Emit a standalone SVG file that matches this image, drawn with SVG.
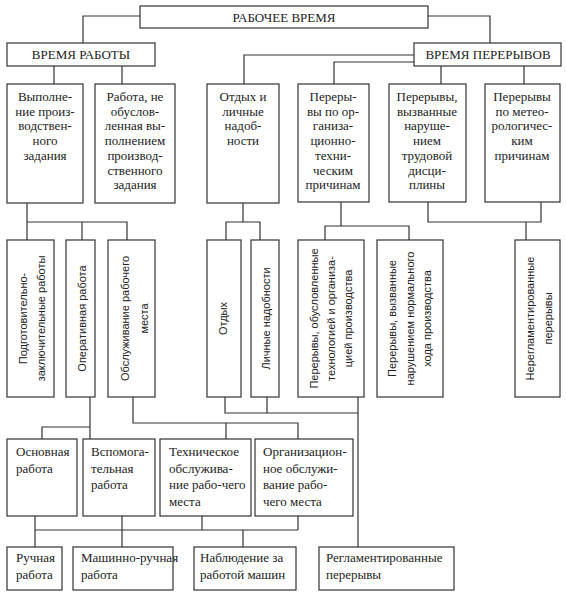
<svg xmlns="http://www.w3.org/2000/svg" width="566" height="595" viewBox="0 0 566 595">
<style>
.b{fill:#fff;stroke:#333;stroke-width:1.2}
.c{fill:none;stroke:#333;stroke-width:1.2}
.t{font-family:"Liberation Serif",serif;font-size:13px;fill:#222}
.m{text-anchor:middle}
.r{font-family:"Liberation Sans",Arial,sans-serif;font-size:11px;fill:#222;text-anchor:middle}
</style>
<rect width="566" height="595" fill="#fff"/>
<g id="connectors" class="c">
<path d="M140,16H83V43M428,16H490V43"/>
<path d="M54,66V84M122,66V84"/>
<path d="M414,55H244V84M414,62H334V84M441,66V84M524,66V84"/>
<path d="M27,203V240M27,222H127V240M82,222V240"/>
<path d="M243,203V222M226,240V222H260V240"/>
<path d="M341,202V226M325,240V226H409V240"/>
<path d="M428,202V222H541V202M526,222V240"/>
<path d="M90,397V439M90,427H42V439"/>
<path d="M133,397V423H298V439M226,423V439"/>
<path d="M225,397V413H358M267,397V413M358,397V547"/>
<path d="M35,516V547M122,516V547M202,516V530M298,516V530M35,530H298M243,530V547"/>
</g>
<g id="n-rabochee"><rect class="b" x="140" y="6" width="288" height="22"/><text class="t m" x="284" y="21.5">РАБОЧЕЕ ВРЕМЯ</text></g>
<g id="n-vremya-raboty"><rect class="b" x="7" y="43" width="148" height="23"/><text class="t m" x="81" y="59">ВРЕМЯ РАБОТЫ</text></g>
<g id="n-vremya-pereryvov"><rect class="b" x="414" y="43" width="147" height="23"/><text class="t m" x="488" y="59">ВРЕМЯ ПЕРЕРЫВОВ</text></g>

<g id="n-vypolnenie"><rect class="b" x="7" y="84" width="76" height="119"/><text class="t m" x="45" y="101"><tspan x="45">Выполне-</tspan><tspan x="45" dy="14.7">ние произ-</tspan><tspan x="45" dy="14.7">водствен-</tspan><tspan x="45" dy="14.7">ного</tspan><tspan x="45" dy="14.7">задания</tspan></text></g>
<g id="n-rabota-ne"><rect class="b" x="95" y="84" width="80" height="119"/><text class="t m" x="135" y="101"><tspan x="135">Работа, не</tspan><tspan x="135" dy="14.7">обуслов-</tspan><tspan x="135" dy="14.7">ленная вы-</tspan><tspan x="135" dy="14.7">полнением</tspan><tspan x="135" dy="14.7">производ-</tspan><tspan x="135" dy="14.7">ственного</tspan><tspan x="135" dy="14.7">задания</tspan></text></g>
<g id="n-otdyh-lichnye"><rect class="b" x="207" y="84" width="72" height="119"/><text class="t m" x="243" y="101"><tspan x="243">Отдых и</tspan><tspan x="243" dy="14.7">личные</tspan><tspan x="243" dy="14.7">надоб-</tspan><tspan x="243" dy="14.7">ности</tspan></text></g>
<g id="n-org-teh"><rect class="b" x="298" y="84" width="71" height="118"/><text class="t m" x="333" y="101"><tspan x="333">Переры-</tspan><tspan x="333" dy="14.7">вы по ор-</tspan><tspan x="333" dy="14.7">ганиза-</tspan><tspan x="333" dy="14.7">ционно-</tspan><tspan x="333" dy="14.7">техни-</tspan><tspan x="333" dy="14.7">ческим</tspan><tspan x="333" dy="14.7">причинам</tspan></text></g>
<g id="n-disciplina"><rect class="b" x="389" y="84" width="77" height="118"/><text class="t m" x="427" y="101"><tspan x="427">Перерывы,</tspan><tspan x="427" dy="14.7">вызванные</tspan><tspan x="427" dy="14.7">наруше-</tspan><tspan x="427" dy="14.7">нием</tspan><tspan x="427" dy="14.7">трудовой</tspan><tspan x="427" dy="14.7">дисци-</tspan><tspan x="427" dy="14.7">плины</tspan></text></g>
<g id="n-meteo"><rect class="b" x="485" y="84" width="75" height="118"/><text class="t m" x="522" y="101"><tspan x="522">Перерывы</tspan><tspan x="522" dy="14.7">по метео-</tspan><tspan x="522" dy="14.7">рологичес-</tspan><tspan x="522" dy="14.7">ким</tspan><tspan x="522" dy="14.7">причинам</tspan></text></g>

<g id="n-podgot"><rect class="b" x="7" y="240" width="47" height="157"/><text class="r" transform="translate(27,318.5) rotate(-90)">Подготовительно-</text><text class="r" transform="translate(45,318.5) rotate(-90)">заключительные работы</text></g>
<g id="n-operativ"><rect class="b" x="66" y="240" width="29" height="157"/><text class="r" transform="translate(86,318.5) rotate(-90)">Оперативная работа</text></g>
<g id="n-obsluzh"><rect class="b" x="108" y="240" width="47" height="157"/><text class="r" transform="translate(129,318.5) rotate(-90)">Обслуживание рабочего</text><text class="r" transform="translate(148,318.5) rotate(-90)">места</text></g>
<g id="n-otdyh"><rect class="b" x="207" y="240" width="34" height="157"/><text class="r" transform="translate(227,318.5) rotate(-90)">Отдых</text></g>
<g id="n-lichnye"><rect class="b" x="251" y="240" width="28" height="157"/><text class="r" transform="translate(270,318.5) rotate(-90)">Личные надобности</text></g>
<g id="n-tehnolog"><rect class="b" x="298" y="240" width="66" height="157"/><text class="r" transform="translate(318,318.5) rotate(-90)">Перерывы, обусловленные</text><text class="r" transform="translate(335,318.5) rotate(-90)">технологией и организа-</text><text class="r" transform="translate(352,318.5) rotate(-90)">цией производства</text></g>
<g id="n-narushenie"><rect class="b" x="377" y="240" width="66" height="157"/><text class="r" transform="translate(396,318.5) rotate(-90)">Перерывы, вызванные</text><text class="r" transform="translate(414,318.5) rotate(-90)">нарушением нормального</text><text class="r" transform="translate(431,318.5) rotate(-90)">хода производства</text></g>
<g id="n-nereglament"><rect class="b" x="515" y="240" width="45" height="157"/><text class="r" transform="translate(534,318.5) rotate(-90)">Нерегламентированные</text><text class="r" transform="translate(552,318.5) rotate(-90)">перерывы</text></g>

<g id="n-osnovnaya"><rect class="b" x="7" y="439" width="70" height="77"/><text class="t" x="16" y="456"><tspan x="16">Основная</tspan><tspan x="16" dy="16.5">работа</tspan></text></g>
<g id="n-vspomog"><rect class="b" x="83" y="439" width="72" height="77"/><text class="t" x="91" y="456"><tspan x="91">Вспомога-</tspan><tspan x="91" dy="16.5">тельная</tspan><tspan x="91" dy="16.5">работа</tspan></text></g>
<g id="n-tehnich"><rect class="b" x="160" y="439" width="91" height="77"/><text class="t" x="169" y="456"><tspan x="169">Техническое</tspan><tspan x="169" dy="16.5">обслужива-</tspan><tspan x="169" dy="16.5">ние рабо-чего</tspan><tspan x="169" dy="16.5">места</tspan></text></g>
<g id="n-organiz"><rect class="b" x="255" y="439" width="98" height="77"/><text class="t" x="263" y="456"><tspan x="263">Организацион-</tspan><tspan x="263" dy="16.5">ное обслужи-</tspan><tspan x="263" dy="16.5">вание рабо-</tspan><tspan x="263" dy="16.5">чего места</tspan></text></g>

<g id="n-ruchnaya"><rect class="b" x="7" y="547" width="55" height="43"/><text class="t" x="16" y="562"><tspan x="16">Ручная</tspan><tspan x="16" dy="17">работа</tspan></text></g>
<g id="n-mashinno"><rect class="b" x="73" y="547" width="100" height="43"/><text class="t" x="81" y="562"><tspan x="81">Машинно-ручная</tspan><tspan x="81" dy="17">работа</tspan></text></g>
<g id="n-nablyudenie"><rect class="b" x="194" y="547" width="102" height="43"/><text class="t" x="200" y="562"><tspan x="200">Наблюдение за</tspan><tspan x="200" dy="17">работой машин</tspan></text></g>
<g id="n-reglament"><rect class="b" x="319" y="547" width="135" height="43"/><text class="t" x="326" y="562"><tspan x="326">Регламентированные</tspan><tspan x="326" dy="17">перерывы</tspan></text></g>
</svg>
